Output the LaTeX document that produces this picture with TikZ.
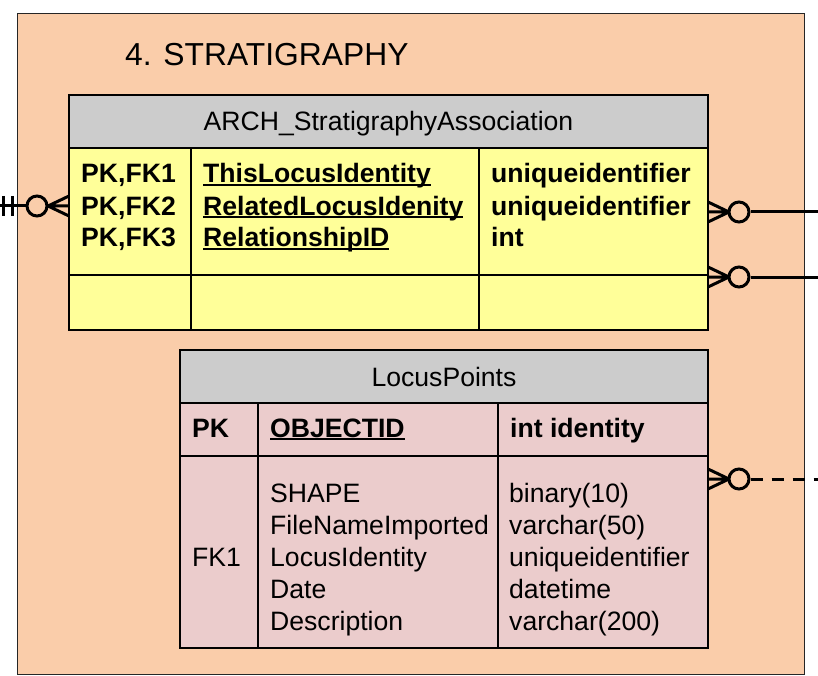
\documentclass[tikz,border=0pt]{standalone}
\usepackage{fontspec}
\setmainfont{Liberation Sans}
\definecolor{peach}{RGB}{250,205,170}
\definecolor{hdrgray}{RGB}{204,204,204}
\definecolor{ylw}{RGB}{255,255,153}
\definecolor{pinkish}{RGB}{235,204,204}
\newcommand{\ulin}[1]{\setbox0\hbox{#1}\rlap{\rule[-3.2pt]{\wd0}{2.2pt}}\box0}
\tikzset{
  frame/.style={draw=black!85, line width=1.3pt, fill=peach},
  cell/.style={draw=black, line width=1.4pt, anchor=north west, inner sep=0pt, outer sep=0pt},
  txt/.style={anchor=base west, inner sep=0pt, font=\fontsize{26.6}{32}\selectfont},
  btxt/.style={txt, font=\fontsize{26.6}{32}\selectfont\bfseries},
  ttl/.style={anchor=base west, inner sep=0pt, font=\fontsize{31.8}{38}\selectfont},
  conn/.style={line width=3pt, black},
  ring/.style={circle, draw=black, line width=3pt, minimum size=20pt, inner sep=0pt, fill=peach},
  solidline/.style={},
  dashline/.style={dash pattern=on 12pt off 9pt}
}
\begin{document}
\begin{tikzpicture}[x=1pt,y=-1pt]
\useasboundingbox (0,0) rectangle (818,676);
% outer frame
\node[frame, anchor=north west, minimum width=787pt, minimum height=661pt, inner sep=0pt] (fr) at (17,13) {};
\node[ttl] (title) at (125,66) {4. STRATIGRAPHY};

% ---- Table 1
\node[cell, fill=hdrgray, minimum width=639pt, minimum height=53pt] (t1h) at (69,95) {};
\node[cell, fill=ylw, minimum width=639pt, minimum height=127pt] (t1b) at (69,148) {};
\node[cell, fill=ylw, minimum width=639pt, minimum height=55pt] (t1e) at (69,275) {};
\coordinate (t1d1a) at (191,148); \coordinate (t1d1b) at (191,330);
\coordinate (t1d2a) at (479,148); \coordinate (t1d2b) at (479,330);
\draw[line width=1.4pt] (t1d1a) -- (t1d1b) (t1d2a) -- (t1d2b);
\node[txt, anchor=base] (t1name) at (388.5,131) {ARCH\_StratigraphyAssociation};
\node[btxt] (k1) at (81,183) {PK,FK1};
\node[btxt] (k2) at (81,215) {PK,FK2};
\node[btxt] (k3) at (81,247) {PK,FK3};
\node[btxt] (f1) at (203,183) {\ulin{ThisLocusIdentity}};
\node[btxt] (f2) at (203,215) {\ulin{RelatedLocusIdenity}};
\node[btxt] (f3) at (203,247) {\ulin{RelationshipID}};
\node[btxt] (y1) at (491,183) {uniqueidentifier};
\node[btxt] (y2) at (491,215) {uniqueidentifier};
\node[btxt] (y3) at (491,247) {int};

% ---- Table 2
\node[cell, fill=hdrgray, minimum width=528pt, minimum height=53pt] (t2h) at (180,350) {};
\node[cell, fill=pinkish, minimum width=528pt, minimum height=53pt] (t2k) at (180,403) {};
\node[cell, fill=pinkish, minimum width=528pt, minimum height=192pt] (t2b) at (180,456) {};
\coordinate (t2d1a) at (258,403); \coordinate (t2d1b) at (258,648);
\coordinate (t2d2a) at (498,403); \coordinate (t2d2b) at (498,648);
\draw[line width=1.4pt] (t2d1a) -- (t2d1b) (t2d2a) -- (t2d2b);
\node[txt, anchor=base] (t2name) at (444,386) {LocusPoints};
\node[btxt] (pk) at (192,437) {PK};
\node[btxt] (oid) at (270,437) {\ulin{OBJECTID}};
\node[btxt] (oidt) at (510,437) {int identity};
\node[txt] (g1) at (270,502) {SHAPE};
\node[txt] (g2) at (270,534) {FileNameImported};
\node[txt] (g3) at (270,566) {LocusIdentity};
\node[txt] (g4) at (270,598) {Date};
\node[txt] (g5) at (270,630) {Description};
\node[txt] (fk) at (192,566) {FK1};
\node[txt] (h1) at (509,502) {binary(10)};
\node[txt] (h2) at (509,534) {varchar(50)};
\node[txt] (h3) at (509,566) {uniqueidentifier};
\node[txt] (h4) at (509,598) {datetime};
\node[txt] (h5) at (509,630) {varchar(200)};

% ---- left connector (one mandatory ... zero or many)
\coordinate (Lend) at (0,206);
\coordinate (Lfoot) at (48,206);
\coordinate (Lt1) at (69,196); \coordinate (Lt2) at (69,206); \coordinate (Lt3) at (69,216);
\node[ring] (Lring) at (37,206) {};
\draw[conn] (Lend) -- (Lring.west);
\draw[conn] (3,196) -- (3,216) (12,196) -- (12,216);
\draw[conn] (Lring.east) -- (Lt2) (Lfoot) -- (Lt1) (Lfoot) -- (Lt3);

% ---- right connectors
\foreach \yy/\nm/\sty in {212/Ra/solidline, 277/Rb/solidline, 479/Rc/dashline}{
  \coordinate (\nm e1) at (708,\yy-10);
  \coordinate (\nm e2) at (708,\yy);
  \coordinate (\nm e3) at (708,\yy+10);
  \coordinate (\nm f) at (729,\yy);
  \coordinate (\nm end) at (818,\yy);
  \node[ring] (\nm ring) at (739,\yy) {};
  \draw[conn] (\nm e1) -- (\nm f) (\nm e2) -- (\nm ring.west) (\nm e3) -- (\nm f);
  \draw[conn, \sty] (\nm ring.east) -- (\nm end);
}
\end{tikzpicture}
\end{document}
